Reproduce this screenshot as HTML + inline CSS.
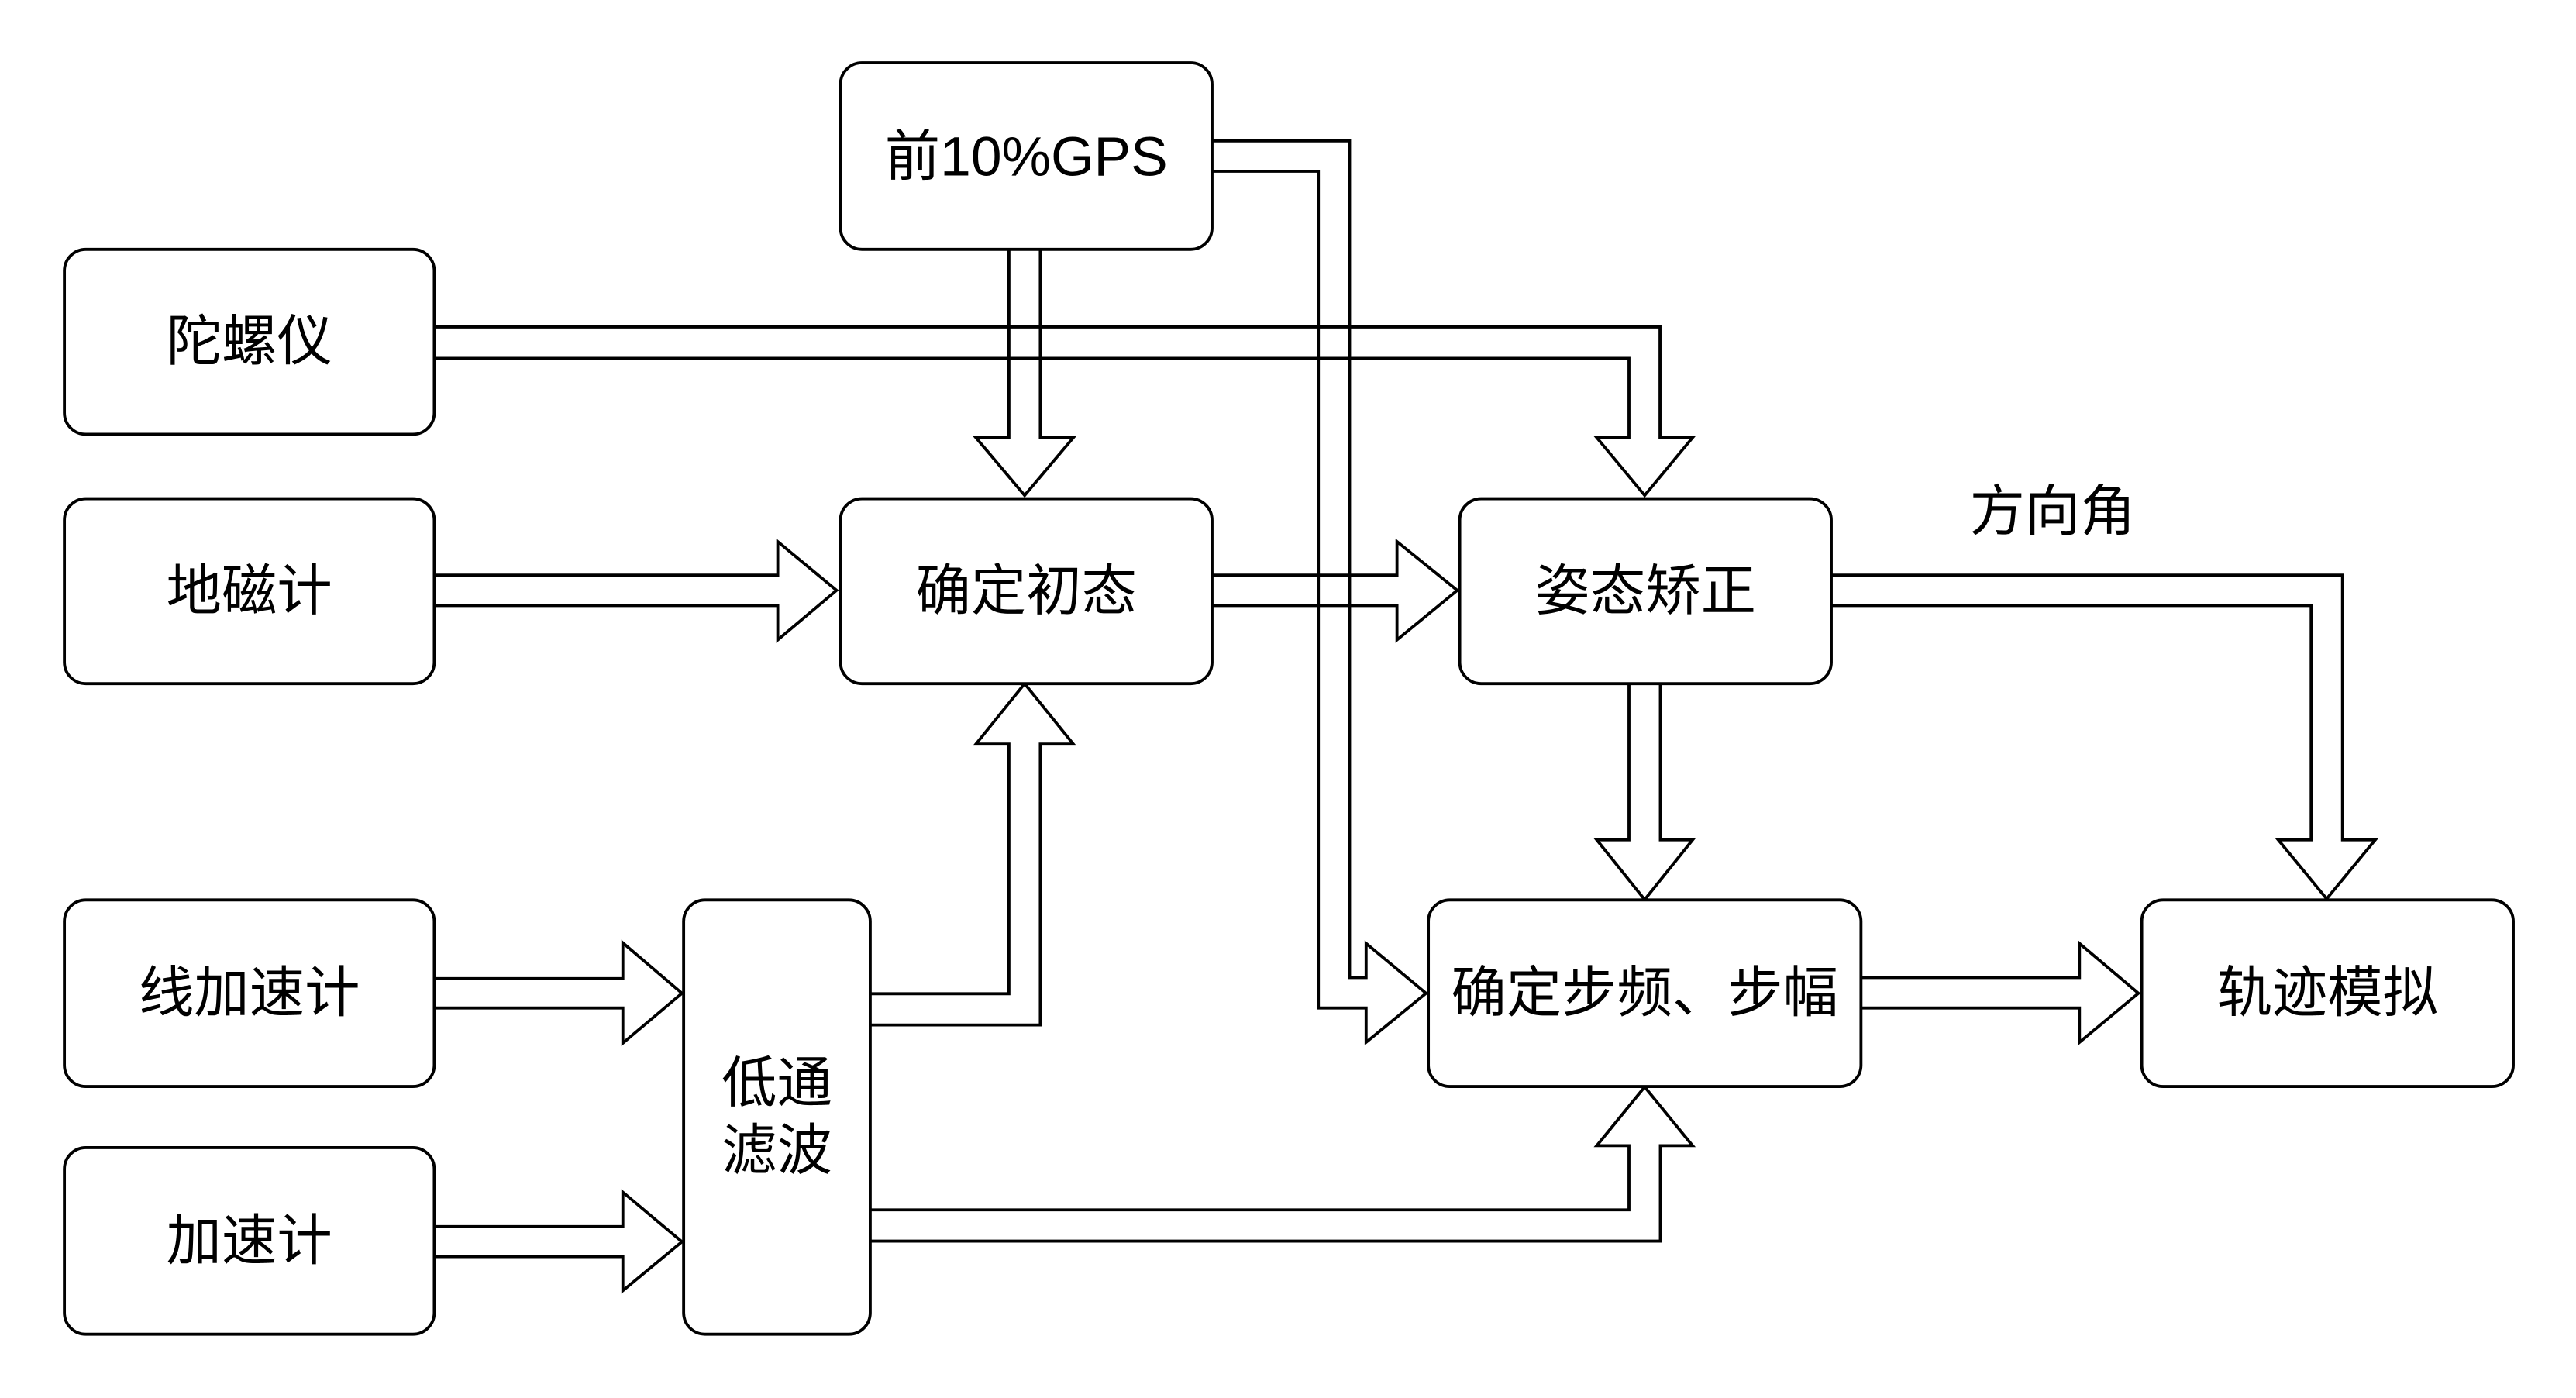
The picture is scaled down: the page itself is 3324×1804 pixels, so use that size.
<!DOCTYPE html>
<html><head><meta charset="utf-8"><style>
html,body{margin:0;padding:0;background:#fff;}
svg{display:block;}
text{font-family:"Liberation Sans","Noto Sans CJK SC",sans-serif;font-size:33.5px;fill:#000;}
</style></head><body>
<svg width="3324" height="1804" viewBox="0 0 1560 846.6" xmlns="http://www.w3.org/2000/svg">
<rect x="0" y="0" width="1560" height="846.6" fill="#fff"/>
<g fill="none" stroke="#000" stroke-width="1.8" stroke-linejoin="miter">
<path d="M611,151 V265 H591 L620.5,300 L650,265 H630 V151"/>
<path d="M263,198 H1005.3 V265 H1025 L996,300 L967,265 H986.5 V217 H263"/>
<path d="M263,348.3 H471 V328 L506.6,357.5 L471,387.5 V366.7 H263"/>
<path d="M734,348.3 H846 V328 L882.5,357.5 L846,387.5 V366.7 H734"/>
<path d="M1109,348.3 H1418.6 V508.6 H1438.4 L1409,544.3 L1379.7,508.6 H1399.6 V366.7 H1109"/>
<path d="M986.5,414 V508.6 H967 L996,544.8 L1025,508.6 H1005.5 V414"/>
<path d="M734,85.3 H817.3 V592 H827.3 V571.3 L863.6,601.5 L827.3,631.2 V610.4 H798.4 V103.7 H734"/>
<path d="M263,592.6 H377.2 V571 L413,601.5 L377.2,631.7 V610.4 H263"/>
<path d="M263,742.8 H377.2 V722 L413,752 L377.2,781.6 V761 H263"/>
<path d="M526.6,601.8 H611 V450.6 H591 L620.5,414 L650,450.6 H630 V620.7 H526.6"/>
<path d="M526.6,732.7 H986.5 V693.8 H967 L996,658.2 L1025,693.8 H1005.5 V751.6 H526.6"/>
<path d="M1127,592 H1259.3 V571.3 L1295,601.5 L1259.3,631.2 V610.4 H1127"/>
</g>
<g fill="#fff" stroke="#000" stroke-width="1.8">
<rect x="509" y="38" width="225" height="113" rx="13"/>
<rect x="39" y="151" width="224" height="112" rx="13"/>
<rect x="39" y="302" width="224" height="112" rx="13"/>
<rect x="509" y="302" width="225" height="112" rx="13"/>
<rect x="884" y="302" width="225" height="112" rx="13"/>
<rect x="39" y="545" width="224" height="113" rx="13"/>
<rect x="39" y="695" width="224" height="113" rx="13"/>
<rect x="414" y="545" width="113" height="263" rx="13"/>
<rect x="865" y="545" width="262" height="113" rx="13"/>
<rect x="1297" y="545" width="225" height="113" rx="13"/>
</g>
<g text-anchor="middle" dominant-baseline="central">
<text x="621.5" y="95">前10%GPS</text>
<text x="151" y="207">陀螺仪</text>
<text x="151" y="358">地磁计</text>
<text x="621.5" y="358">确定初态</text>
<text x="996.5" y="358">姿态矫正</text>
<text x="1243" y="310">方向角</text>
<text x="151" y="601.5">线加速计</text>
<text x="151" y="751.5">加速计</text>
<text x="470.5" y="656">低通</text>
<text x="470.5" y="697">滤波</text>
<text x="996" y="601.5">确定步频、步幅</text>
<text x="1409.5" y="601.5">轨迹模拟</text>
</g>
</svg>
</body></html>
